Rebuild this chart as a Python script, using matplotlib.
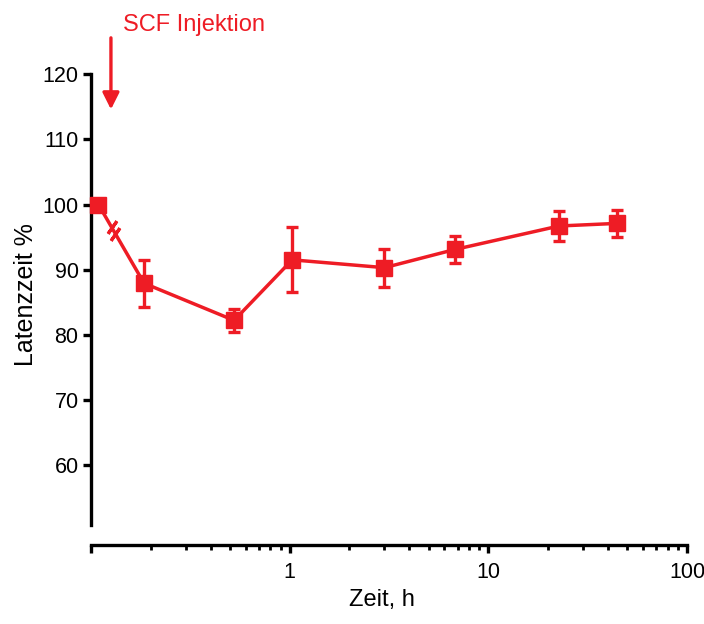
import matplotlib
matplotlib.use("Agg")
import matplotlib.pyplot as plt
import numpy as np

plt.rcParams['font.family'] = ['Liberation Sans', 'DejaVu Sans']

time_h = [0.109, 0.185, 0.525, 1.03, 3.0, 6.8, 22.7, 44.5]
latency = [100.0, 87.9, 82.2, 91.5, 90.3, 93.1, 96.7, 97.1]
err = [0.0, 3.6, 1.8, 5.0, 2.9, 2.1, 2.3, 2.1]
yticks = [60, 70, 80, 90, 100, 110, 120]
xticks = [0.1, 1, 10, 100]
xticklabels = ['', '1', '10', '100']

RED = '#EE1C25'
W, H = 704, 624
fig = plt.figure(figsize=(W / 100, H / 100), dpi=100)
x0, x1 = 91, 687
ytop, ybot = 74.3, 545
ax = fig.add_axes([x0 / W, (H - ybot) / H, (x1 - x0) / W, (ybot - ytop) / H])

ax.set_xscale('log')
ax.set_xlim(0.1, 100)
ax.set_ylim(47.7, 120)

ax.errorbar(time_h, latency, yerr=err, color=RED, marker='s', markersize=11,
            linewidth=2.5, elinewidth=2.4, capsize=4.6, capthick=2.4,
            clip_on=False, zorder=3)

# axis break marks between first and second point
lx = np.log10(time_h[:2])
for t in (0.29, 0.37):
    xm = 10 ** (lx[0] + t * (lx[1] - lx[0]))
    ym = latency[0] + t * (latency[1] - latency[0])
    ax.plot([xm], [ym], marker=(2, 2, -35), markersize=11, markeredgewidth=2.3,
            color=RED, zorder=4, clip_on=False)

for s in ['top', 'right']:
    ax.spines[s].set_visible(False)
ax.spines['left'].set_linewidth(2.4)
ax.spines['bottom'].set_linewidth(2.4)
ax.spines['left'].set_bounds(50.8, 120)

ax.set_yticks(yticks)
ax.set_yticklabels([str(v) for v in yticks])
ax.set_xticks(xticks)
ax.set_xticklabels(xticklabels)
ax.xaxis.set_minor_locator(matplotlib.ticker.LogLocator(base=10, subs=np.arange(2, 10)))
ax.xaxis.set_minor_formatter(matplotlib.ticker.NullFormatter())
ax.tick_params(axis='both', which='major', length=6, width=2.4, labelsize=15.5,
               color='black', labelcolor='black')
ax.tick_params(axis='x', which='minor', length=3.5, width=2.0)
ax.tick_params(axis='y', pad=3)
ax.tick_params(axis='x', pad=6)

ax.set_ylabel('Latenzzeit %', fontsize=18)
ax.yaxis.set_label_coords(-0.0884, 0.533)
ax.set_xlabel('Zeit, h', fontsize=17)
ax.xaxis.set_label_coords(0.488, -0.0926)

# annotation arrow
ax.annotate('', xy=(0.126, 114.6), xytext=(0.126, 125.6),
            arrowprops=dict(arrowstyle='-|>', color=RED, lw=2.4,
                            mutation_scale=25, shrinkA=0, shrinkB=0),
            annotation_clip=False)
fig.text(123 / W, 1 - 25 / H, 'SCF Injektion', color=RED, fontsize=17,
         ha='left', va='center')

fig.savefig('out.png', dpi=100)
